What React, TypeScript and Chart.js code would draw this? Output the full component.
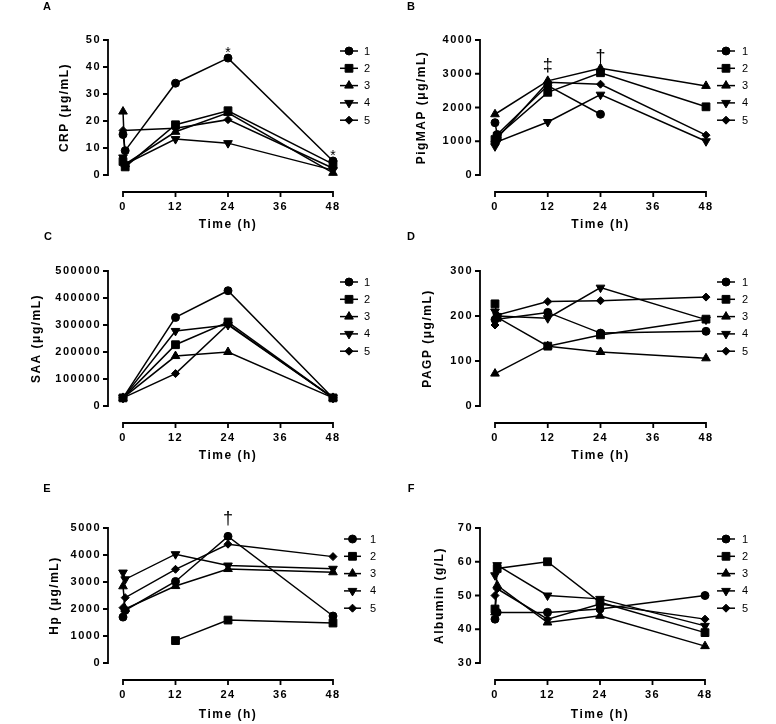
import React, { useEffect, useRef } from 'react';
import { Chart, registerables } from 'chart.js';
import { drawPoint } from 'chart.js/helpers';

Chart.register(...registerables);

// ---------- data ----------
const TIMES = [0, 0.5, 12, 24, 48];
const X_TICKS = [0, 12, 24, 36, 48];
const SERIES_LABELS = ['1', '2', '3', '4', '5'];
const X_TITLE = 'Time (h)';

// A: CRP (µg/mL)
const CRP_1 = [15, 9, 34, 43.3, 5.2];
const CRP_2 = [5, 3, 18.6, 23.8, 4];
const CRP_3 = [23.5, 4, 16, 23, 0.8];
const CRP_4 = [6.5, 4, 13.3, 11.8, 1.8];
const CRP_5 = [16.5, null, 17.3, 20.5, 2.5];

// B: PigMAP (µg/mL)
const PIGMAP_1 = [1550, 1200, 2650, 1800, null];
const PIGMAP_2 = [1050, 1150, 2450, 3030, 2020];
const PIGMAP_3 = [1800, null, 2790, 3160, 2640];
const PIGMAP_4 = [850, 980, 1570, 2380, 1000];
const PIGMAP_5 = [1000, 1100, 2750, 2690, 1180];

// C: SAA (µg/mL)
const SAA_1 = [30000, null, 328000, 427000, 30000];
const SAA_2 = [30000, null, 227000, 311000, 30000];
const SAA_3 = [30000, null, 185000, 200000, 30000];
const SAA_4 = [30000, null, 278000, 300000, 30000];
const SAA_5 = [30000, null, 120000, 303000, 30000];

// D: PAGP (µg/mL)
const PAGP_1 = [192, null, 208, 162, 166];
const PAGP_2 = [227, 197, 133, 158, 193];
const PAGP_3 = [72, null, 133, 120, 106];
const PAGP_4 = [210, 200, 195, 263, 192];
const PAGP_5 = [180, 202, 232, 234, 242];

// E: Hp (µg/mL)
const HP_1 = [1700, 1950, 3020, 4690, 1740];
const HP_2 = [null, null, 830, 1590, 1480];
const HP_3 = [2840, 2000, 2850, 3480, 3360];
const HP_4 = [3350, 3100, 4030, 3610, 3490];
const HP_5 = [2050, 2420, 3470, 4400, 3940];

// F: Albumin (g/L)
const ALB_1 = [43, 45, 45, 46, 50];
const ALB_2 = [46, 58, 60, 48, 39];
const ALB_3 = [45, 53, 42, 44, 35];
const ALB_4 = [56, 59, 50, 49, 41];
const ALB_5 = [50, 52, 43, 47.5, 43];

// ---------- styles ----------
const FONT = '"Liberation Sans", Arial, Helvetica, sans-serif';
const MARKERS = [
  { style: 'circle', radius: 4, rotation: 0 },
  { style: 'rect', radius: 5.5, rotation: 0 },
  { style: 'triangle', radius: 5, rotation: 0 },
  { style: 'triangle', radius: 5, rotation: 180 },
  { style: 'rectRot', radius: 4, rotation: 0 },
];

type Note = { x: number; y: number; text: string; dy: number; size: number };
type PanelCfg = {
  letter: string;
  yTitle: string;
  series: (number | null)[][];
  yMin: number;
  yMax: number;
  yStep: number;
  notes: Note[];
  canvas: { left: number; top: number; width: number; height: number };
  area: { left: number; right: number; top: number; bottom: number };
  yTitleX: number;
  xTitleY: number;
  legend: { x1: number; x2: number; tx: number };
  letterPos: { x: number; y: number };
};

const PANELS: PanelCfg[] = [
  {
    letter: 'A', yTitle: 'CRP (μg/mL)', series: [CRP_1, CRP_2, CRP_3, CRP_4, CRP_5],
    yMin: 0, yMax: 50, yStep: 10,
    notes: [{ x: 24, y: 43.3, text: '*', dy: 5, size: 14 }, { x: 48, y: 5.2, text: '*', dy: 5, size: 14 }],
    canvas: { left: 0, top: 0, width: 388, height: 240 },
    area: { left: 123, right: 333, top: 40, bottom: 175 },
    yTitleX: 65, xTitleY: 225, legend: { x1: 340, x2: 358, tx: 364 }, letterPos: { x: 47, y: 7 },
  },
  {
    letter: 'B', yTitle: 'PigMAP (μg/mL)', series: [PIGMAP_1, PIGMAP_2, PIGMAP_3, PIGMAP_4, PIGMAP_5],
    yMin: 0, yMax: 4000, yStep: 1000,
    notes: [{ x: 12, y: 2790, text: '‡', dy: 15, size: 18 }, { x: 24, y: 3160, text: '†', dy: 11, size: 18 }],
    canvas: { left: 388, top: 0, width: 388, height: 240 },
    area: { left: 495, right: 706, top: 40, bottom: 175 },
    yTitleX: 422, xTitleY: 225, legend: { x1: 717, x2: 735, tx: 742 }, letterPos: { x: 411, y: 7 },
  },
  {
    letter: 'C', yTitle: 'SAA (μg/mL)', series: [SAA_1, SAA_2, SAA_3, SAA_4, SAA_5],
    yMin: 0, yMax: 500000, yStep: 100000,
    notes: [],
    canvas: { left: 0, top: 230, width: 388, height: 260 },
    area: { left: 123, right: 333, top: 271, bottom: 406 },
    yTitleX: 37, xTitleY: 456, legend: { x1: 340, x2: 358, tx: 364 }, letterPos: { x: 48, y: 237 },
  },
  {
    letter: 'D', yTitle: 'PAGP (μg/mL)', series: [PAGP_1, PAGP_2, PAGP_3, PAGP_4, PAGP_5],
    yMin: 0, yMax: 300, yStep: 100,
    notes: [],
    canvas: { left: 388, top: 230, width: 388, height: 260 },
    area: { left: 495, right: 706, top: 271, bottom: 406 },
    yTitleX: 428, xTitleY: 456, legend: { x1: 717, x2: 735, tx: 742 }, letterPos: { x: 411, y: 237 },
  },
  {
    letter: 'E', yTitle: 'Hp (μg/mL)', series: [HP_1, HP_2, HP_3, HP_4, HP_5],
    yMin: 0, yMax: 5000, yStep: 1000,
    notes: [{ x: 24, y: 4690, text: '†', dy: 17, size: 18 }],
    canvas: { left: 0, top: 482, width: 388, height: 242 },
    area: { left: 123, right: 333, top: 528, bottom: 663 },
    yTitleX: 55, xTitleY: 715, legend: { x1: 344, x2: 361, tx: 370 }, letterPos: { x: 47, y: 489 },
  },
  {
    letter: 'F', yTitle: 'Albumin (g/L)', series: [ALB_1, ALB_2, ALB_3, ALB_4, ALB_5],
    yMin: 30, yMax: 70, yStep: 10,
    notes: [],
    canvas: { left: 388, top: 482, width: 388, height: 242 },
    area: { left: 495, right: 705, top: 528, bottom: 663 },
    yTitleX: 440, xTitleY: 715, legend: { x1: 717, x2: 735, tx: 742 }, letterPos: { x: 411, y: 489 },
  },
];

const AXIS_GAP_X = 17; // x axis line below the plotting area
const AXIS_GAP_Y = 15; // y axis line left of the plotting area
const TICK_LEN = 5;
const SPACING = '1.5px';

function makeDecoPlugin(cfg: PanelCfg) {
  const c = cfg.canvas;
  return {
    id: 'deco' + cfg.letter,
    beforeUpdate(chart: any) { chart.ctx.letterSpacing = SPACING; },
    beforeDraw(chart: any) { chart.ctx.letterSpacing = SPACING; },
    afterDraw(chart: any) {
      const ctx = chart.ctx as CanvasRenderingContext2D;
      const xs = chart.scales.x;
      const ys = chart.scales.y;
      const area = chart.chartArea;
      ctx.save();
      ctx.strokeStyle = '#000';
      ctx.fillStyle = '#000';
      ctx.lineWidth = 1.8;
      ctx.lineCap = 'butt';
      // x axis
      const axY = area.bottom + AXIS_GAP_X;
      ctx.beginPath();
      ctx.moveTo(xs.getPixelForValue(X_TICKS[0]) - 0.9, axY);
      ctx.lineTo(xs.getPixelForValue(X_TICKS[X_TICKS.length - 1]) + 0.9, axY);
      X_TICKS.forEach((t) => {
        const px = xs.getPixelForValue(t);
        ctx.moveTo(px, axY);
        ctx.lineTo(px, axY + TICK_LEN);
      });
      ctx.stroke();
      // y axis
      const axX = area.left - AXIS_GAP_Y;
      ctx.beginPath();
      ctx.moveTo(axX, ys.getPixelForValue(cfg.yMin) + 0.9);
      ctx.lineTo(axX, ys.getPixelForValue(cfg.yMax) - 0.9);
      ys.ticks.forEach((t: any) => {
        const py = ys.getPixelForValue(t.value);
        ctx.moveTo(axX, py);
        ctx.lineTo(axX - TICK_LEN, py);
      });
      ctx.stroke();

      // legend
      ctx.letterSpacing = '0px';
      const ly0 = cfg.area.top + 11 - c.top;
      const lx1 = cfg.legend.x1 - c.left;
      const lx2 = cfg.legend.x2 - c.left;
      const ltx = cfg.legend.tx - c.left;
      ctx.font = `11px ${FONT}`;
      ctx.textAlign = 'left';
      ctx.textBaseline = 'middle';
      SERIES_LABELS.forEach((lab, i) => {
        const y = ly0 + i * 17.3;
        const m = MARKERS[i];
        ctx.lineWidth = 1.5;
        ctx.beginPath();
        ctx.moveTo(lx1, y);
        ctx.lineTo(lx2, y);
        ctx.stroke();
        ctx.lineWidth = 1;
        drawPoint(ctx, { pointStyle: m.style, radius: m.radius, rotation: m.rotation, borderWidth: 1 } as any, (lx1 + lx2) / 2, y);
        ctx.fillText(lab, ltx, y + 0.5);
      });

      // significance marks
      ctx.textAlign = 'center';
      cfg.notes.forEach((n) => {
        ctx.font = `${n.size}px ${FONT}`;
        ctx.fillText(n.text, xs.getPixelForValue(n.x), ys.getPixelForValue(n.y) - n.dy);
      });

      // panel letter
      ctx.font = `bold 11px ${FONT}`;
      ctx.fillText(cfg.letter, cfg.letterPos.x - c.left, cfg.letterPos.y - c.top);
      ctx.restore();
    },
  };
}

function Panel({ cfg }: { cfg: PanelCfg }) {
  const ref = useRef<HTMLCanvasElement | null>(null);
  useEffect(() => {
    const c = cfg.canvas;
    const a = cfg.area;
    const tickFont = { family: FONT, size: 11, weight: 'bold' as const };
    const titleFont = { family: FONT, size: 12, weight: 'bold' as const, lineHeight: 1.2 };
    const chart = new Chart(ref.current as HTMLCanvasElement, {
      type: 'line',
      data: {
        datasets: cfg.series.map((vals, i) => ({
          label: SERIES_LABELS[i],
          data: TIMES.map((t, j) => ({ x: t, y: vals[j] })).filter((p) => p.y !== null) as any,
          borderColor: '#000',
          backgroundColor: '#000',
          borderWidth: 1.5,
          pointStyle: MARKERS[i].style as any,
          pointRadius: MARKERS[i].radius,
          pointRotation: MARKERS[i].rotation,
          pointBackgroundColor: '#000',
          pointBorderColor: '#000',
          pointBorderWidth: 1,
          tension: 0,
          clip: false as any,
        })),
      },
      options: {
        animation: false,
        responsive: false,
        devicePixelRatio: 1,
        events: [],
        layout: {
          padding: {
            left: 0,
            top: a.top - c.top,
            right: c.left + c.width - a.right,
            bottom: 0,
          },
        },
        plugins: { legend: { display: false }, tooltip: { enabled: false } },
        scales: {
          x: {
            type: 'linear',
            min: X_TICKS[0],
            max: X_TICKS[X_TICKS.length - 1],
            afterFit: (s: any) => { s.height = c.top + c.height - a.bottom; },
            afterBuildTicks: (s: any) => { s.ticks = X_TICKS.map((v) => ({ value: v })); },
            grid: { display: false, drawTicks: false },
            border: { display: false },
            ticks: { padding: 25, font: tickFont, color: '#000', maxRotation: 0, autoSkip: false, callback: (v: any) => String(v) },
            title: {
              display: true, text: X_TITLE, font: titleFont, color: '#000',
              padding: { top: 0, bottom: c.top + c.height - cfg.xTitleY - 7.2 },
            },
          },
          y: {
            type: 'linear',
            min: cfg.yMin,
            max: cfg.yMax,
            afterFit: (s: any) => { s.width = a.left - c.left; },
            grid: { display: false, drawTicks: false },
            border: { display: false },
            ticks: { stepSize: cfg.yStep, padding: 22, font: tickFont, color: '#000', callback: (v: any) => String(v) },
            title: {
              display: true, text: cfg.yTitle, font: titleFont, color: '#000',
              padding: { top: cfg.yTitleX - c.left - 7.2, bottom: 0 },
            },
          },
        },
      },
      plugins: [makeDecoPlugin(cfg)],
    });
    return () => chart.destroy();
  }, [cfg]);
  const c = cfg.canvas;
  return (
    <canvas
      ref={ref}
      width={c.width}
      height={c.height}
      style={{ position: 'absolute', left: c.left, top: c.top, width: c.width, height: c.height }}
    />
  );
}

export default function App() {
  return (
    <div style={{ position: 'absolute', left: 0, top: 0, width: 776, height: 724, background: '#fff', overflow: 'hidden' }}>
      {PANELS.map((p) => (
        <Panel key={p.letter} cfg={p} />
      ))}
    </div>
  );
}
